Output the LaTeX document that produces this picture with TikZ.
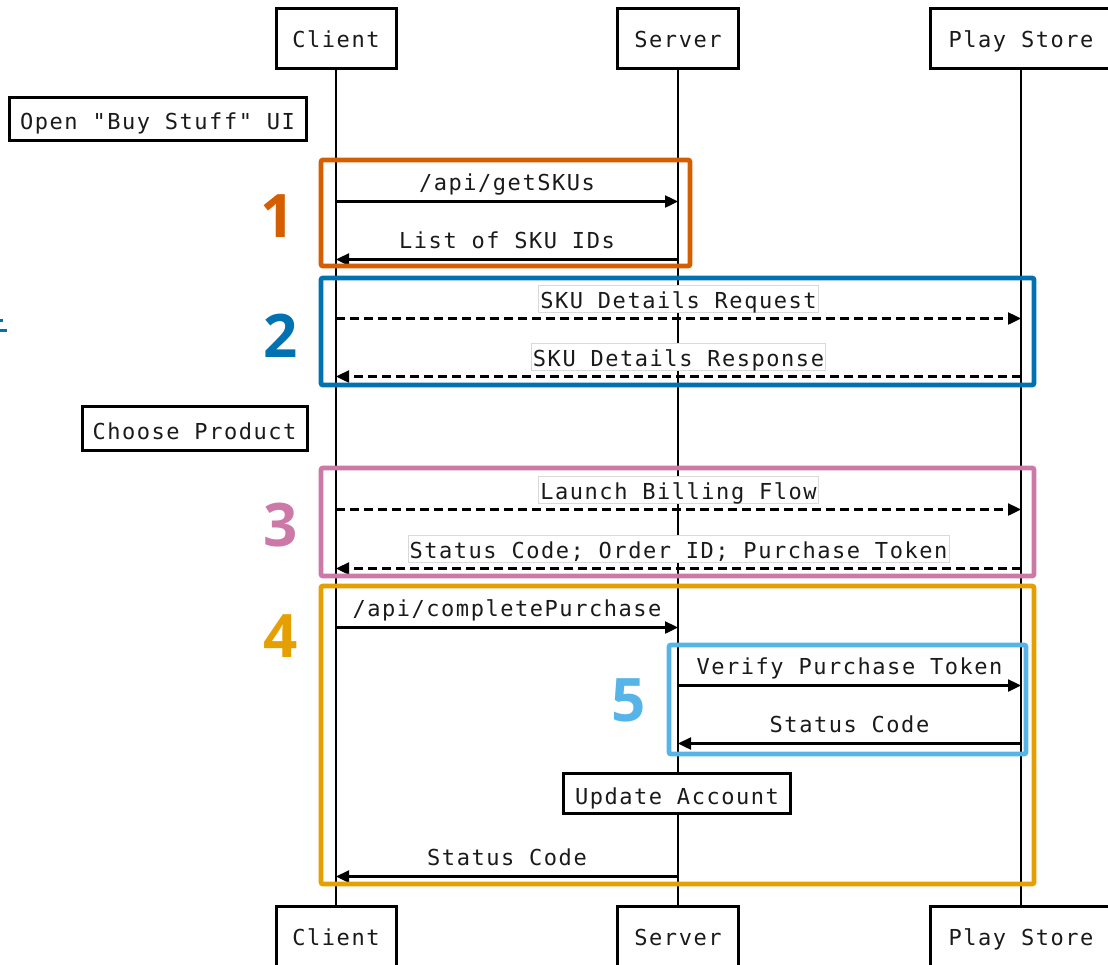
\documentclass[tikz,border=0pt]{standalone}
\usepackage{fontspec}
\usetikzlibrary{arrows.meta,calc}
\newfontfamily\monofam{DejaVu Sans Mono}[LetterSpace=7]
\newfontfamily\numfam{Open Sans}
\definecolor{cOne}{HTML}{D55E00}
\definecolor{cTwo}{HTML}{0072B2}
\definecolor{cThree}{HTML}{CC79A7}
\definecolor{cFour}{HTML}{E69F00}
\definecolor{cFive}{HTML}{56B4E9}
\definecolor{txt}{HTML}{1A1A1A}
\begin{document}
\begin{tikzpicture}[x=1pt,y=-1pt,
  mfont/.style={font=\monofam\fontsize{22}{26}\selectfont, text=txt},
  actor/.style={mfont, draw, line width=3pt, minimum height=60pt, inner sep=0pt, fill=white, text height=18pt, text depth=0pt},
  actbox/.style={mfont, draw, line width=3pt, inner sep=0pt, fill=white, text height=22pt, text depth=0pt},
  life/.style={line width=2.6pt},
  msg/.style={line width=2.4pt, -{Triangle[length=13pt,width=12pt]}},
  dmsg/.style={msg, dash pattern=on 9pt off 5pt},
  lbl/.style={mfont, anchor=base, inner sep=0pt},
  blbl/.style={lbl, draw=black!15, line width=0.8pt, fill=white, inner xsep=1.5pt, inner ysep=1pt, text height=22pt, text depth=3pt},
  frame/.style={line width=4.8pt, rounded corners=2pt},
  num/.style={font=\numfam\bfseries\fontsize{60}{62}\selectfont, inner sep=0pt}
]
\useasboundingbox (0,0) rectangle (1108,964);

% actors
\node[actor, minimum width=120pt] (ct) at (336,38) {Client};
\node[actor, minimum width=121pt] (st) at (678,38) {Server};
\node[actor, minimum width=182pt] (pt) at (1021,38) {Play Store};
\node[actor, minimum width=120pt] (cb) at (336,936) {Client};
\node[actor, minimum width=121pt] (sb) at (678,936) {Server};
\node[actor, minimum width=182pt] (pb) at (1021,936) {Play Store};

% lifelines
\draw[life] (ct.south) -- (cb.north);
\draw[life] (st.south) -- (sb.north);
\draw[life] (pt.south) -- (pb.north);

% message end points
\foreach \n/\y in {1/200,2/258,3/317,4/375,5/508,6/567,7/626,8/684,9/742,10/875}{
  \coordinate (c\n) at ($(ct.south) + (0,\y-68)$);
  \coordinate (s\n) at ($(st.south) + (0,\y-68)$);
  \coordinate (p\n) at ($(pt.south) + (0,\y-68)$);
}

% messages
\draw[msg] (c1) -- (s1);
\node[lbl] (l1) at ($(c1)!0.5!(s1) + (0,-11)$) {/api/getSKUs};
\draw[msg] (s2) -- (c2);
\node[lbl] (l2) at ($(c2)!0.5!(s2) + (0,-11)$) {List of SKU IDs};
\draw[dmsg] (c3) -- (p3);
\node[blbl] (l3) at ($(c3)!0.5!(p3) + (0,-10)$) {SKU Details Request};
\draw[dmsg] (p4) -- (c4);
\node[blbl] (l4) at ($(c4)!0.5!(p4) + (0,-10)$) {SKU Details Response};
\draw[dmsg] (c5) -- (p5);
\node[blbl] (l5) at ($(c5)!0.5!(p5) + (0,-10)$) {Launch Billing Flow};
\draw[dmsg] (p6) -- (c6);
\node[blbl] (l6) at ($(c6)!0.5!(p6) + (0,-10)$) {Status Code; Order ID; Purchase Token};
\draw[msg] (c7) -- (s7);
\node[lbl] (l7) at ($(c7)!0.5!(s7) + (0,-11)$) {/api/completePurchase};
\draw[msg] (s8) -- (p8);
\node[lbl] (l8) at ($(s8)!0.5!(p8) + (0,-11)$) {Verify Purchase Token};
\draw[msg] (p9) -- (s9);
\node[lbl] (l9) at ($(s9)!0.5!(p9) + (0,-11)$) {Status Code};
\draw[msg] (s10) -- (c10);
\node[lbl] (l10) at ($(c10)!0.5!(s10) + (0,-11)$) {Status Code};

% action boxes
\node[actbox, minimum width=297pt, minimum height=43pt] (open) at (157.5,118.5) {Open "Buy Stuff" UI};
\node[actbox, minimum width=225pt, minimum height=44pt] (choose) at (194.5,428) {Choose Product};
\node[actbox, minimum width=227pt, minimum height=40pt] (upd) at (677,793) {Update Account};

% frames
\draw[frame, cOne] (321,160) rectangle (690,266);
\draw[frame, cTwo] (321,278) rectangle (1034,385);
\draw[frame, cThree] (321,468) rectangle (1034,576);
\draw[frame, cFour] (321,586) rectangle (1034,884);
\draw[frame, cFive] (669,645) rectangle (1026,754);

% numbers
\node[num, text=cOne] (n1) at (278,216) {1};
\node[num, text=cTwo] (n2) at (281,336) {2};
\node[num, text=cThree] (n3) at (281,525) {3};
\node[num, text=cFour] (n4) at (281,636) {4};
\node[num, text=cFive] (n5) at (629,700) {5};

% clipped fragment at left edge
\fill[cTwo] (0,328.5) rectangle (6.5,331.5);
\fill[cTwo] (0,318.5) rectangle (2.5,321.5);
\end{tikzpicture}
\end{document}
